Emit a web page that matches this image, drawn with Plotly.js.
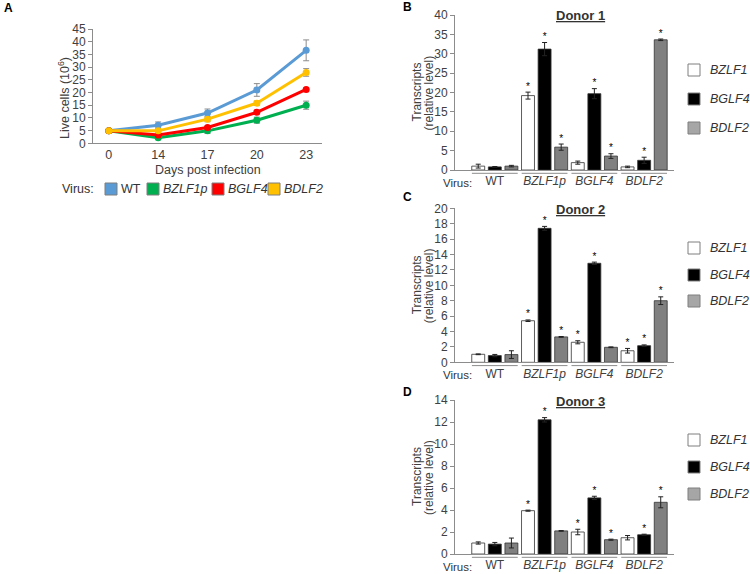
<!DOCTYPE html>
<html><head><meta charset="utf-8">
<script src="https://cdn.plot.ly/plotly-3.0.1.min.js"></script>
<style>html,body{margin:0;padding:0;background:#fff}</style>
</head><body><div id="chart" style="width:750px;height:574px"></div>
<script>
// ---------- Panel A: growth curves ----------
const days = ["0", "14", "17", "20", "23"];
const growthNames = ["WT", "BZLF1p", "BGLF4", "BDLF2"];
const growthWT = [4.9, 7.1, 11.9, 21.0, 36.6];
const growthWTErr = [0.3, 1.3, 1.6, 2.5, 4.1];
const growthBZLF1p = [4.9, 2.2, 4.9, 9.1, 15.0];
const growthBZLF1pErr = [0.3, 0.5, 1.0, 1.2, 1.6];
const growthBGLF4 = [4.9, 3.3, 6.2, 12.2, 21.2];
const growthBGLF4Err = [0.3, 0.4, 0.5, 0.6, 0.6];
const growthBDLF2 = [4.9, 4.9, 9.5, 15.8, 27.9];
const growthBDLF2Err = [0.3, 0.5, 1.0, 0.8, 1.5];

// ---------- Panels B-D: transcripts ----------
const viruses = ["WT", "BZLF1p", "BGLF4", "BDLF2"];
const virusLabels = ["WT", "<i>BZLF1p</i>", "<i>BGLF4</i>", "<i>BDLF2</i>"];
const genes = ["BZLF1", "BGLF4", "BDLF2"];

const donor1BZLF1 = [1.0, 19.2, 1.9, 0.8];
const donor1BZLF1Err = [0.5, 0.9, 0.4, 0.2];
const donor1BGLF4 = [0.8, 31.2, 19.7, 2.5];
const donor1BGLF4Err = [0.1, 1.7, 1.3, 0.8];
const donor1BDLF2 = [1.0, 5.9, 3.6, 33.6];
const donor1BDLF2Err = [0.2, 0.8, 0.6, 0.2];
const donor1Sig = [[0, 1, 0, 0], [0, 1, 1, 1], [0, 1, 1, 1]];

const donor2BZLF1 = [1.04, 5.4, 2.6, 1.5];
const donor2BZLF1Err = [0.05, 0.1, 0.2, 0.3];
const donor2BGLF4 = [0.87, 17.4, 12.86, 2.16];
const donor2BGLF4Err = [0.15, 0.25, 0.15, 0.1];
const donor2BDLF2 = [1.0, 3.3, 1.95, 8.0];
const donor2BDLF2Err = [0.5, 0.05, 0.05, 0.5];
const donor2Sig = [[0, 1, 1, 1], [0, 1, 1, 1], [0, 1, 0, 1]];

const donor3BZLF1 = [1.0, 3.94, 2.0, 1.48];
const donor3BZLF1Err = [0.1, 0.05, 0.25, 0.2];
const donor3BGLF4 = [0.9, 12.2, 5.1, 1.75];
const donor3BGLF4Err = [0.15, 0.2, 0.15, 0.05];
const donor3BDLF2 = [1.0, 2.1, 1.3, 4.7];
const donor3BDLF2Err = [0.45, 0.03, 0.05, 0.5];
const donor3Sig = [[0, 1, 1, 0], [0, 1, 1, 1], [0, 0, 1, 1]];

// ---------- styling ----------
const W = 750, H = 574;
const fx = px => px / W;
const fy = py => 1 - py / H;
const FONT = "Liberation Sans, Arial, sans-serif";
const TXT = "#404040";
const AXC = "#8c8c8c";
const growthColors = ["#5b9bd5", "#00b050", "#ff0000", "#ffc000"];
const geneFill = ["#ffffff", "#000000", "#808080"];
const geneLegendFill = ["#ffffff", "#000000", "#a6a6a6"];

const traces = [];
const gSeries = [
  [growthWT, growthWTErr], [growthBZLF1p, growthBZLF1pErr],
  [growthBGLF4, growthBGLF4Err], [growthBDLF2, growthBDLF2Err]
];
gSeries.forEach((s, k) => {
  traces.push({
    type: "scatter", mode: "lines+markers", name: growthNames[k],
    x: days, y: s[0], xaxis: "x", yaxis: "y",
    line: {color: growthColors[k], width: 3},
    marker: {color: growthColors[k], size: 7},
    error_y: {type: "data", array: s[1], color: "#8c8c8c", thickness: 1, width: 3},
    showlegend: false
  });
});

const panels = [
  {xa: "x2", ya: "y2", title: "Donor 1", top: 15, bottom: 170,
   vals: [donor1BZLF1, donor1BGLF4, donor1BDLF2], errs: [donor1BZLF1Err, donor1BGLF4Err, donor1BDLF2Err], sig: donor1Sig,
   range: [0, 40], dtick: 5, legendY: [70, 99, 128], letter: "B", letterY: 7},
  {xa: "x3", ya: "y3", title: "Donor 2", top: 208.3, bottom: 362.3,
   vals: [donor2BZLF1, donor2BGLF4, donor2BDLF2], errs: [donor2BZLF1Err, donor2BGLF4Err, donor2BDLF2Err], sig: donor2Sig,
   range: [0, 20], dtick: 2, legendY: [248, 275, 301], letter: "C", letterY: 197},
  {xa: "x4", ya: "y4", title: "Donor 3", top: 400, bottom: 554,
   vals: [donor3BZLF1, donor3BGLF4, donor3BDLF2], errs: [donor3BZLF1Err, donor3BGLF4Err, donor3BDLF2Err], sig: donor3Sig,
   range: [0, 14], dtick: 2, legendY: [440, 467, 494], letter: "D", letterY: 392}
];

const BARGAP = 0, BARGROUPGAP = 0.22;
const slot = (1 - BARGAP) / genes.length;

panels.forEach(p => {
  genes.forEach((g, s) => {
    traces.push({
      type: "bar", name: g, x: viruses.map((v, i) => i), y: p.vals[s],
      xaxis: p.xa, yaxis: p.ya,
      marker: {color: geneFill[s], line: {color: "#333333", width: 0.8}},
      error_y: {type: "data", array: p.errs[s], color: "#222222", thickness: 1, width: 2.5},
      showlegend: false, hoverinfo: "y"
    });
  });
  genes.forEach((g, s) => {
    const idx = viruses.map((v, i) => i).filter(i => p.sig[s][i]);
    traces.push({
      type: "scatter", mode: "text",
      x: idx.map(i => i + (s - (genes.length - 1) / 2) * slot),
      y: idx.map(i => p.vals[s][i] + p.errs[s][i]),
      text: idx.map(() => "*"),
      textposition: "top center",
      textfont: {family: FONT, size: 10, color: "#000000"},
      xaxis: p.xa, yaxis: p.ya, showlegend: false, hoverinfo: "skip"
    });
  });
});

const baseAxis = {
  showline: true, linecolor: AXC, linewidth: 1, showgrid: false, zeroline: false,
  tickfont: {family: FONT, size: 12, color: TXT}, tickcolor: AXC, fixedrange: true
};

const layout = {
  width: W, height: H, margin: {l: 0, r: 0, t: 0, b: 0},
  paper_bgcolor: "#ffffff", plot_bgcolor: "#ffffff",
  font: {family: FONT, color: TXT},
  barmode: "group", bargap: BARGAP, bargroupgap: BARGROUPGAP,
  showlegend: false,
  xaxis: Object.assign({}, baseAxis, {domain: [fx(93), fx(322)], anchor: "y", type: "category", ticks: "",
    tickfont: {family: FONT, size: 12.5, color: TXT}}),
  yaxis: Object.assign({}, baseAxis, {domain: [fy(143.3), fy(29)], anchor: "x", range: [0, 45], dtick: 5, ticks: "outside", ticklen: 4,
    tickfont: {family: FONT, size: 12, color: TXT}}),
  annotations: [], shapes: []
};

const xDom = [fx(455), fx(674)];
panels.forEach((p, k) => {
  const n = k + 2;
  layout["xaxis" + n] = Object.assign({}, baseAxis, {
    domain: xDom, anchor: "y" + n, range: [-0.8, 3.6],
    tickvals: viruses.map((v, i) => i), ticktext: virusLabels, ticks: ""
  });
  layout["yaxis" + n] = Object.assign({}, baseAxis, {
    domain: [fy(p.bottom), fy(p.top)], anchor: "x" + n,
    range: p.range, dtick: p.dtick, ticks: "outside", ticklen: 4
  });
  layout.annotations.push({xref: "paper", yref: "paper", x: fx(580), y: fy(p.top + 1), xanchor: "center", yanchor: "middle",
    text: "<b><u>" + p.title + "</u></b>", showarrow: false, font: {family: FONT, size: 13, color: "#333333"}});
  layout.annotations.push({xref: "paper", yref: "paper", x: fx(417), y: fy((p.top + p.bottom) / 2), xanchor: "center", yanchor: "middle",
    text: "Transcripts", textangle: -90, showarrow: false, font: {family: FONT, size: 12, color: TXT}});
  layout.annotations.push({xref: "paper", yref: "paper", x: fx(429), y: fy((p.top + p.bottom) / 2), xanchor: "center", yanchor: "middle",
    text: "(relative level)", textangle: -90, showarrow: false, font: {family: FONT, size: 12, color: TXT}});
  layout.annotations.push({xref: "paper", yref: "paper", x: fx(474), y: fy(p.bottom + 13), xanchor: "right", yanchor: "middle",
    text: "Virus:", showarrow: false, font: {family: FONT, size: 11.5, color: "#333333"}});
  layout.annotations.push({xref: "paper", yref: "paper", x: fx(401), y: fy(p.letterY), xanchor: "left", yanchor: "middle",
    text: "<b>" + p.letter + "</b>", showarrow: false, font: {family: FONT, size: 12, color: "#000000"}});
  viruses.forEach((v, i) => {
    layout.shapes.push({type: "line", xref: "x" + n, yref: "paper", x0: i - 0.46, x1: i + 0.46,
      y0: fy(p.bottom + 3.3), y1: fy(p.bottom + 3.3), line: {color: AXC, width: 1}});
  });
  genes.forEach((g, s) => {
    const cy = p.legendY[s];
    layout.shapes.push({type: "rect", xref: "paper", yref: "paper", x0: fx(688), x1: fx(700), y0: fy(cy - 6), y1: fy(cy + 6),
      fillcolor: geneLegendFill[s], line: {color: "#7f7f7f", width: 1}});
    layout.annotations.push({xref: "paper", yref: "paper", x: fx(708), y: fy(cy), xanchor: "left", yanchor: "middle",
      text: "<i>" + g + "</i>", showarrow: false, font: {family: FONT, size: 12.5, color: "#333333"}});
  });
});

layout.annotations.push({xref: "paper", yref: "paper", x: fx(2), y: fy(8), xanchor: "left", yanchor: "middle",
  text: "<b>A</b>", showarrow: false, font: {family: FONT, size: 12, color: "#000000"}});
layout.annotations.push({xref: "paper", yref: "paper", x: fx(64), y: fy(98), xanchor: "center", yanchor: "middle",
  text: "Live cells (10<sup>6</sup>)", textangle: -90, showarrow: false, font: {family: FONT, size: 12.5, color: TXT}});
layout.annotations.push({xref: "paper", yref: "paper", x: fx(208), y: fy(170.5), xanchor: "center", yanchor: "middle",
  text: "Days post infection", showarrow: false, font: {family: FONT, size: 12.5, color: TXT}});
layout.annotations.push({xref: "paper", yref: "paper", x: fx(96), y: fy(189), xanchor: "right", yanchor: "middle",
  text: "Virus:", showarrow: false, font: {family: FONT, size: 12.5, color: "#333333"}});
const aLegendX = [105, 147, 212, 268];
growthNames.forEach((g, k) => {
  const x0 = aLegendX[k];
  layout.shapes.push({type: "rect", xref: "paper", yref: "paper", x0: fx(x0), x1: fx(x0 + 12), y0: fy(183), y1: fy(195),
    fillcolor: growthColors[k], line: {color: "#7f7f7f", width: 1}});
  layout.annotations.push({xref: "paper", yref: "paper", x: fx(x0 + 14), y: fy(189), xanchor: "left", yanchor: "middle",
    text: k === 0 ? g : "<i>" + g + "</i>", showarrow: false, font: {family: FONT, size: 12.5, color: "#333333"}});
});

Plotly.newPlot("chart", traces, layout, {staticPlot: true, displayModeBar: false});
</script>
</body></html>
